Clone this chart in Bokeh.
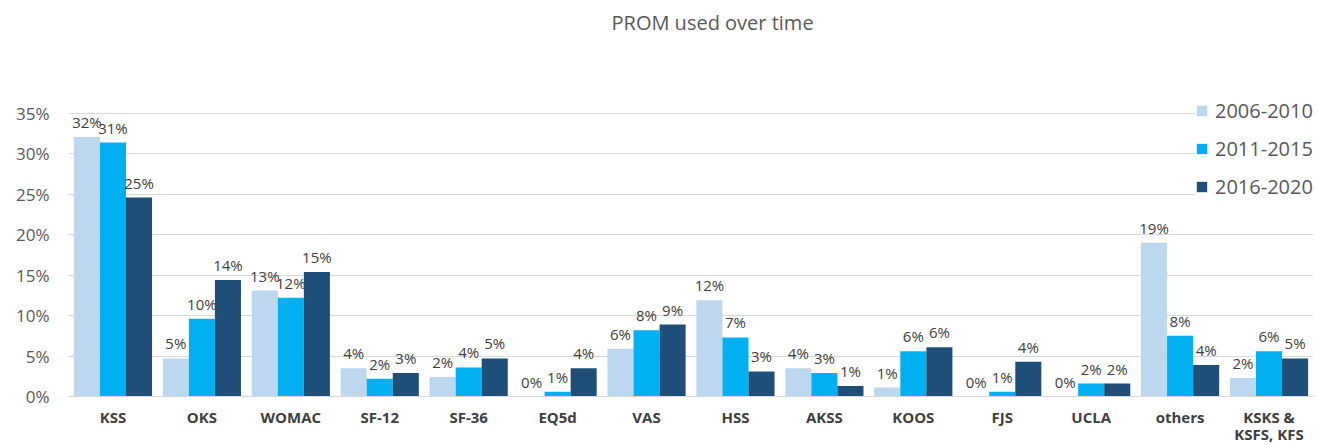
from bokeh.plotting import figure
from bokeh.models import (ColumnDataSource, FactorRange, Legend, LegendItem, Title,
                          PrintfTickFormatter, FixedTicker, Range1d)
from bokeh.transform import dodge
from bokeh.core.properties import value
from bokeh.embed import file_html
from bokeh.resources import INLINE

categories = ["KSS", "OKS", "WOMAC", "SF-12", "SF-36", "EQ5d", "VAS", "HSS",
              "AKSS", "KOOS", "FJS", "UCLA", "others", "KSKS &\nKSFS, KFS"]
series_names = ["2006-2010", "2011-2015", "2016-2020"]
v2006 = [32.1, 4.7, 13.1, 3.5, 2.4, 0.0, 5.9, 11.9, 3.5, 1.1, 0.0, 0.0, 19.0, 2.3]
v2011 = [31.4, 9.6, 12.2, 2.2, 3.6, 0.6, 8.2, 7.3, 2.9, 5.6, 0.6, 1.6, 7.5, 5.6]
v2016 = [24.6, 14.4, 15.4, 2.9, 4.7, 3.5, 8.9, 3.1, 1.3, 6.1, 4.3, 1.6, 3.9, 4.7]
y_ticks = [0, 5, 10, 15, 20, 25, 30, 35]
title_text = "PROM used over time"

colors = ["#BDD7EE", "#00B0F0", "#1F4E79"]
FONT = "Open Sans"

data = dict(cat=categories, v2006=v2006, v2011=v2011, v2016=v2016)
for key, vals in (("v2006", v2006), ("v2011", v2011), ("v2016", v2016)):
    data["l" + key] = ["%d%%" % int(round(v)) for v in vals]
src = ColumnDataSource(data)

p = figure(x_range=FactorRange(*categories), y_range=Range1d(0, 36.6),
           width=1315, height=446, output_backend="svg", toolbar_location=None,
           min_border_left=68, min_border_right=2, min_border_top=100,
           min_border_bottom=49, title=None)

# spacer (closest to the frame), then the real title above it
p.add_layout(Title(text=" ", text_font_size="10px", standoff=47,
                   text_color="white"), "above")
p.add_layout(Title(text=title_text, align="left", offset=543, standoff=10,
                   text_font=FONT, text_font_size="20px",
                   text_font_style="normal", text_color="#595959"), "above")

bw = 0.293
offsets = [-bw, 0.0, bw]
renderers = []
for key, off, col in zip(("v2006", "v2011", "v2016"), offsets, colors):
    r = p.vbar(x=dodge("cat", off, range=p.x_range), top=key, width=bw,
               source=src, fill_color=col, line_color=None)
    renderers.append(r)
    p.text(x=dodge("cat", off, range=p.x_range), y=key, text="l" + key,
           source=src, text_align="center", text_baseline="bottom",
           y_offset=-5, text_font=value(FONT), text_font_size="15px",
           text_color="#404040")

legend = Legend(items=[LegendItem(label=n, renderers=[r]) for n, r in zip(series_names, renderers)],
                location=(1127, 196), margin=0, padding=0, spacing=11,
                glyph_width=13, glyph_height=13, label_height=20,
                label_standoff=7, label_text_font=FONT,
                label_text_font_size="20px", label_text_color="#595959",
                border_line_color=None, background_fill_color="white",
                background_fill_alpha=1.0)
p.add_layout(legend, "center")

p.yaxis.ticker = FixedTicker(ticks=y_ticks)
p.yaxis.formatter = PrintfTickFormatter(format="%d%%")
p.yaxis.axis_line_color = None
p.yaxis.major_tick_line_color = None
p.yaxis.minor_tick_line_color = None
p.yaxis.major_label_text_font = FONT
p.yaxis.major_label_text_font_size = "17px"
p.yaxis.major_label_text_color = "#595959"
p.yaxis.major_label_standoff = 13

p.xaxis.axis_line_color = "#D9D9D9"
p.xaxis.major_tick_line_color = None
p.xaxis.minor_tick_line_color = None
p.xaxis.major_label_text_font = FONT
p.xaxis.major_label_text_font_size = "15px"
p.xaxis.major_label_text_font_style = "bold"
p.xaxis.major_label_text_color = "#404040"
p.xaxis.major_label_text_line_height = 0.85
p.xaxis.major_label_standoff = 4

p.xgrid.grid_line_color = None
p.ygrid.grid_line_color = "#D9D9D9"
p.outline_line_color = None
p.x_range.range_padding = 0
p.x_range.group_padding = 0

open("out.html", "w").write(file_html(p, INLINE))
